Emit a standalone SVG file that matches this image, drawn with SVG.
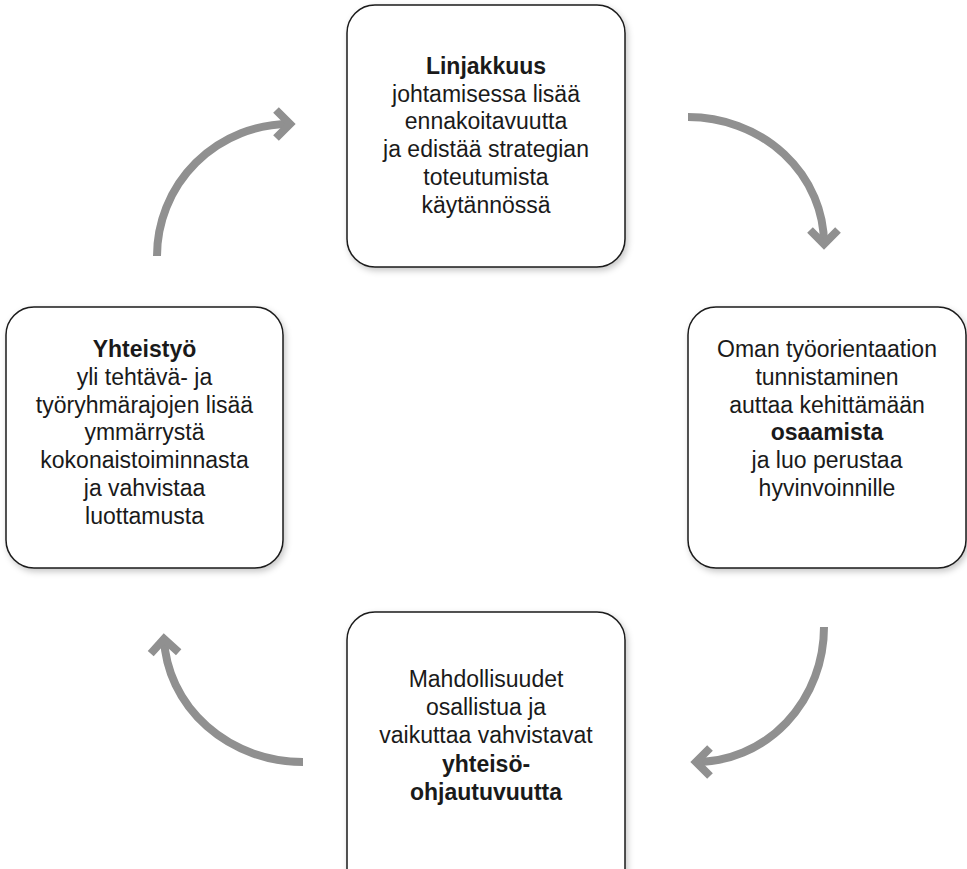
<svg xmlns="http://www.w3.org/2000/svg" width="967" height="869" viewBox="0 0 967 869">
<defs>
<filter id="sh" x="-10%" y="-10%" width="125%" height="125%">
<feDropShadow dx="2" dy="3" stdDeviation="3" flood-color="#000" flood-opacity="0.22"/>
</filter>
<marker id="chev" markerUnits="userSpaceOnUse" markerWidth="40" markerHeight="40" viewBox="-20 -20 40 40" refX="0" refY="0" orient="auto">
<path d="M-14,-14 L0,0 L-14,14" fill="none" stroke="#909090" stroke-width="8" stroke-linejoin="miter"/>
</marker>
</defs>
<style>
.box{fill:#fff;stroke:#1a1a1a;stroke-width:1.5;filter:url(#sh)}
.t{font-family:"Liberation Sans",Arial,sans-serif;font-size:23px;fill:#1a1a1a;text-anchor:middle}
.b{font-weight:bold}
.arr{fill:none;stroke:#909090;stroke-width:8;marker-end:url(#chev)}
</style>
<rect width="967" height="869" fill="#fff"/>
<g id="connectors">
<path class="arr" d="M688,117 A136,127 0 0 1 824,244"/>
<path class="arr" d="M824,627 A128,135 0 0 1 696,762"/>
<path class="arr" d="M303,762 A139,129 0 0 1 164,639"/>
<path class="arr" d="M157,256 A133,132 0 0 1 290,124"/>
</g>
<g id="node-top">
<rect class="box" x="347" y="5" width="278" height="262" rx="28"/>
<text class="t" x="486" y="74"><tspan class="b">Linjakkuus</tspan><tspan x="486" dy="27.7">johtamisessa lisää</tspan><tspan x="486" dy="27.7">ennakoitavuutta</tspan><tspan x="486" dy="27.7">ja edistää strategian</tspan><tspan x="486" dy="27.7">toteutumista</tspan><tspan x="486" dy="27.7">käytännössä</tspan></text>
</g>
<g id="node-right">
<rect class="box" x="688" y="307" width="278" height="261" rx="28"/>
<text class="t" x="827" y="357">Oman työorientaation<tspan x="827" dy="27.8">tunnistaminen</tspan><tspan x="827" dy="27.8">auttaa kehittämään</tspan><tspan x="827" dy="27.8" class="b">osaamista</tspan><tspan x="827" dy="27.8">ja luo perustaa</tspan><tspan x="827" dy="27.8">hyvinvoinnille</tspan></text>
</g>
<g id="node-bottom">
<rect class="box" x="347" y="612" width="278" height="300" rx="28"/>
<text class="t" x="486" y="687">Mahdollisuudet<tspan x="486" dy="28.2">osallistua ja</tspan><tspan x="486" dy="28.2">vaikuttaa vahvistavat</tspan><tspan x="486" dy="28.2" class="b">yhteisö-</tspan><tspan x="486" dy="28.2" class="b">ohjautuvuutta</tspan></text>
</g>
<g id="node-left">
<rect class="box" x="6" y="307" width="277" height="261" rx="28"/>
<text class="t" x="144.5" y="357"><tspan class="b">Yhteistyö</tspan><tspan x="144.5" dy="27.8">yli tehtävä- ja</tspan><tspan x="144.5" dy="27.8">työryhmärajojen lisää</tspan><tspan x="144.5" dy="27.8">ymmärrystä</tspan><tspan x="144.5" dy="27.8">kokonaistoiminnasta</tspan><tspan x="144.5" dy="27.8">ja vahvistaa</tspan><tspan x="144.5" dy="27.8">luottamusta</tspan></text>
</g>
</svg>
